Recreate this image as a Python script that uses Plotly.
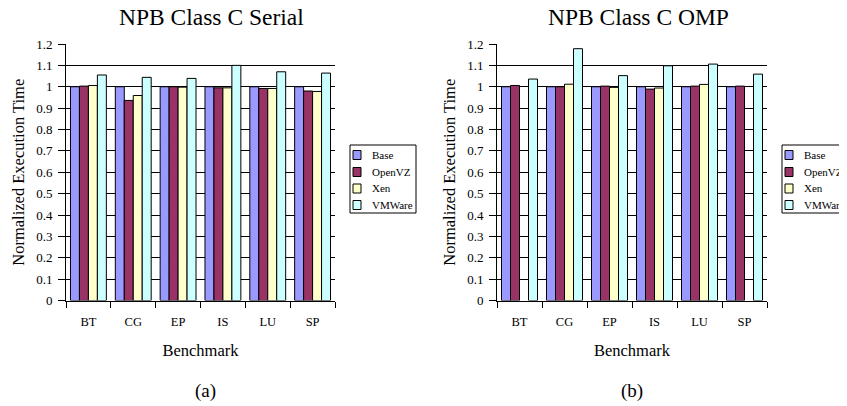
import plotly.graph_objects as go

benchmarks = ["BT", "CG", "EP", "IS", "LU", "SP"]
series_names = ["Base", "OpenVZ", "Xen", "VMWare"]
colors = ["#9999FF", "#993366", "#FFFFCC", "#CCFFFF"]

serial_base = [1.0, 1.0, 1.0, 1.0, 1.0, 1.0]
serial_openvz = [1.003, 0.936, 1.0, 0.995, 0.992, 0.980]
serial_xen = [1.006, 0.959, 0.998, 0.995, 0.992, 0.978]
serial_vmware = [1.055, 1.044, 1.039, 1.100, 1.070, 1.064]

omp_base = [1.0, 1.0, 1.0, 1.0, 1.0, 1.0]
omp_openvz = [1.006, 1.0, 1.003, 0.989, 1.003, 1.003]
omp_xen = [None, 1.012, 0.997, 0.994, 1.011, None]
omp_vmware = [1.036, 1.178, 1.052, 1.098, 1.106, 1.059]

titles = ["NPB Class C Serial", "NPB Class C OMP"]
sublabels = ["(a)", "(b)"]
y_title = "Normalized Execution Time"
x_title = "Benchmark"

W, H = 847, 406
OFF = 8  # page body margin offset
FONT = "Liberation Serif"

px = lambda v: (v - OFF) / W
py = lambda v: 1 - (v - OFF) / H

fig = go.Figure()

panels = [
    dict(data=[serial_base, serial_openvz, serial_xen, serial_vmware], xa="x", ya="y"),
    dict(data=[omp_base, omp_openvz, omp_xen, omp_vmware], xa="x2", ya="y2"),
]
for p in panels:
    for name, vals, col in zip(series_names, p["data"], colors):
        fig.add_trace(go.Bar(
            x=benchmarks, y=vals, name=name, xaxis=p["xa"], yaxis=p["ya"],
            marker=dict(color=col, line=dict(color="black", width=1)),
            showlegend=False,
        ))

ydom = [py(300.5), py(44)]
xdoms = [[px(66), px(335)], [px(497), px(767)]]

axis_common_x = dict(
    type="category", tickson="boundaries", ticks="outside", ticklen=6, tickcolor="black",
    showline=True, linecolor="black", linewidth=1, showgrid=False, automargin=False,
    tickfont=dict(family=FONT, size=12.5, color="black"), ticklabelstandoff=9,
    title=dict(text=x_title, font=dict(family=FONT, size=16.5, color="black"), standoff=16),
)
axis_common_y = dict(
    range=[0, 1.2], dtick=0.1, tick0=0, ticks="outside", ticklen=7, tickcolor="black",
    showline=True, linecolor="black", linewidth=1, showgrid=True, gridcolor="black", gridwidth=1,
    zeroline=False, automargin=False, ticklabelstandoff=3,
    tickfont=dict(family=FONT, size=13, color="black"),
    title=dict(text=y_title, font=dict(family=FONT, size=16.5, color="black"), standoff=7),
)

fig.update_layout(
    width=W, height=H,
    margin=dict(l=0, r=0, t=0, b=0, autoexpand=False),
    paper_bgcolor="white", plot_bgcolor="white",
    barmode="group", bargap=0.2, bargroupgap=0.0,
    xaxis=dict(domain=xdoms[0], anchor="y", **axis_common_x),
    yaxis=dict(domain=ydom, anchor="x", **axis_common_y),
    xaxis2=dict(domain=xdoms[1], anchor="y2", **axis_common_x),
    yaxis2=dict(domain=ydom, anchor="x2", **axis_common_y),
    showlegend=False,
)

title_cx = [211, 638]
sub_cx = [205, 632]
for i in range(2):
    fig.add_annotation(text=titles[i], x=px(title_cx[i]), y=py(17), xref="paper", yref="paper",
                       showarrow=False, font=dict(family=FONT, size=23.5, color="black"),
                       xanchor="center", yanchor="middle")
    fig.add_annotation(text=sublabels[i], x=px(sub_cx[i]), y=py(391), xref="paper", yref="paper",
                       showarrow=False, font=dict(family=FONT, size=19, color="black"),
                       xanchor="center", yanchor="middle")

# Legend boxes (one per panel), drawn as a legend key
legend_left = [350, 782]
legend_top, legend_bottom = 145, 213
row_centers = [155, 172, 188.5, 205]
for lx in legend_left:
    fig.add_shape(type="rect", xref="paper", yref="paper",
                  x0=px(lx), x1=px(lx + 66), y0=py(legend_bottom), y1=py(legend_top),
                  line=dict(color="black", width=1), fillcolor="white", layer="above")
    for name, col, rc in zip(series_names, colors, row_centers):
        fig.add_shape(type="rect", xref="paper", yref="paper",
                      x0=px(lx + 3), x1=px(lx + 11), y0=py(rc + 4.5), y1=py(rc - 4.5),
                      line=dict(color="black", width=1), fillcolor=col, layer="above")
        fig.add_annotation(text=name, x=px(lx + 20), y=py(rc), xref="paper", yref="paper",
                           showarrow=False, xanchor="left", yanchor="middle",
                           font=dict(family=FONT, size=11, color="black"))

fig.write_html("out.html")
